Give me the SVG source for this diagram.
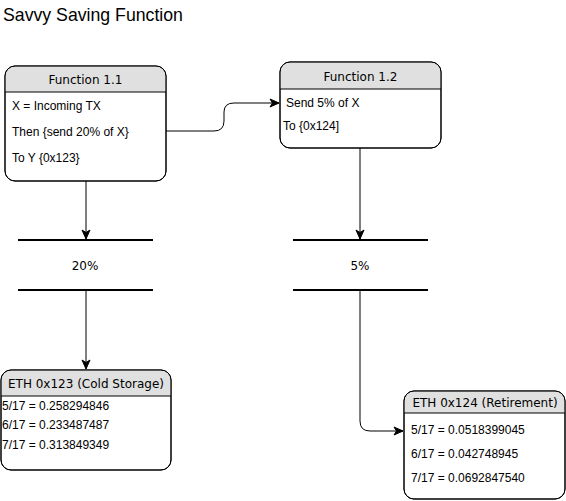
<svg xmlns="http://www.w3.org/2000/svg" width="566" height="501" viewBox="0 0 566 501">
<defs>
<style>
.box{fill:#fff;stroke:#000;stroke-width:1}
.hdr{fill:#e0e0e0;stroke:none}
.sep{stroke:#000;stroke-width:1}
.ht{font-family:"DejaVu Sans",Verdana,sans-serif;font-size:12px;fill:#000;text-anchor:middle}
.bt{font-family:"Liberation Sans",Arial,sans-serif;font-size:12px;fill:#000}
.bar{stroke:#000;stroke-width:2}
.con{fill:none;stroke:#000;stroke-width:1}
</style>
<marker id="arr" markerWidth="11" markerHeight="11" refX="10" refY="5.5" orient="auto" markerUnits="userSpaceOnUse">
<path d="M1,1.5 L10,5.5 L1,9.5 L3.5,5.5 Z" fill="#000" stroke="#000" stroke-width="1"/>
</marker>
</defs>
<text x="3" y="21" font-family="'Liberation Sans',Arial,sans-serif" font-size="17.7" fill="#000">Savvy Saving Function</text>

<g id="connectors">
<path class="con" d="M166,131 H214 Q224,131 224,121 V112 Q224,103 234,103 H279" marker-end="url(#arr)"/>
<path class="con" d="M86,181 V239" marker-end="url(#arr)"/>
<path class="con" d="M360,148 V239" marker-end="url(#arr)"/>
<path class="con" d="M86,290 V369" marker-end="url(#arr)"/>
<path class="con" d="M360,290 V421 Q360,431 370,431 H403" marker-end="url(#arr)"/>
</g>

<g id="func11">
<rect class="box" x="5" y="66" width="161" height="115" rx="10"/>
<path class="hdr" d="M5.5,92 V76 A9.5,9.5 0 0 1 15,66.5 H156 A9.5,9.5 0 0 1 165.5,76 V92 Z"/>
<line class="sep" x1="5" y1="92" x2="166" y2="92"/>
<rect x="5" y="66" width="161" height="115" rx="10" fill="none" stroke="#000"/>
<text class="ht" x="85.5" y="84">Function 1.1</text>
<text class="bt" x="12" y="110">X = Incoming TX</text>
<text class="bt" x="12" y="136">Then {send 20% of X}</text>
<text class="bt" x="12" y="162">To Y {0x123}</text>
</g>

<g id="func12">
<rect class="box" x="280" y="62" width="161" height="86" rx="10"/>
<path class="hdr" d="M280.5,89 V72 A9.5,9.5 0 0 1 290,62.5 H431 A9.5,9.5 0 0 1 440.5,72 V89 Z"/>
<line class="sep" x1="280" y1="89" x2="441" y2="89"/>
<rect x="280" y="62" width="161" height="86" rx="10" fill="none" stroke="#000"/>
<text class="ht" x="360.5" y="81">Function 1.2</text>
<text class="bt" x="286" y="107">Send 5% of X</text>
<text class="bt" x="283" y="130">To {0x124]</text>
</g>

<g id="split20">
<line class="bar" x1="18" y1="240" x2="153" y2="240"/>
<line class="bar" x1="18" y1="290" x2="153" y2="290"/>
<text class="ht" x="85" y="270">20%</text>
</g>

<g id="split5">
<line class="bar" x1="293" y1="240" x2="428" y2="240"/>
<line class="bar" x1="293" y1="290" x2="428" y2="290"/>
<text class="ht" x="360" y="270">5%</text>
</g>

<g id="eth123">
<rect class="box" x="1" y="370" width="170" height="100" rx="10"/>
<path class="hdr" d="M1.5,396 V380 A9.5,9.5 0 0 1 11,370.5 H161 A9.5,9.5 0 0 1 170.5,380 V396 Z"/>
<line class="sep" x1="1" y1="396" x2="171" y2="396"/>
<rect x="1" y="370" width="170" height="100" rx="10" fill="none" stroke="#000"/>
<text class="ht" x="86" y="388">ETH 0x123 (Cold Storage)</text>
<text class="bt" x="2" y="410">5/17 = 0.258294846</text>
<text class="bt" x="2" y="429">6/17  = 0.233487487</text>
<text class="bt" x="2" y="449">7/17  = 0.313849349</text>
</g>

<g id="eth124">
<rect class="box" x="404" y="391" width="161" height="108" rx="10"/>
<path class="hdr" d="M404.5,413 V401 A9.5,9.5 0 0 1 414,391.5 H555 A9.5,9.5 0 0 1 564.5,401 V413 Z"/>
<line class="sep" x1="404" y1="413" x2="565" y2="413"/>
<rect x="404" y="391" width="161" height="108" rx="10" fill="none" stroke="#000"/>
<text class="ht" x="485" y="407">ETH 0x124 (Retirement)</text>
<text class="bt" x="411" y="434">5/17 = 0.0518399045</text>
<text class="bt" x="411" y="458">6/17 = 0.042748945</text>
<text class="bt" x="411" y="482">7/17 = 0.0692847540</text>
</g>
</svg>
